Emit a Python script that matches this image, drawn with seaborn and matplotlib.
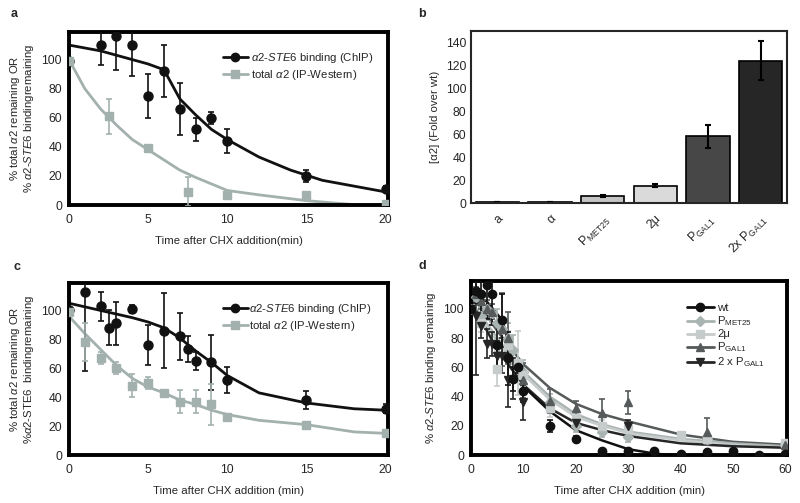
import numpy as np
import pandas as pd
import matplotlib
matplotlib.use("Agg")
import matplotlib.pyplot as plt
from matplotlib.lines import Line2D
from matplotlib.ticker import MultipleLocator
import seaborn as sns

# --- dados painel a ---
a_t_chip = [0, 2, 3, 4, 5, 6, 7, 8, 9, 10, 15, 20]
a_chip = [99, 110, 116, 110, 75, 92, 66, 52, 60, 44, 20, 11]
a_chip_err = [0, 14, 23, 21, 15, 18, 18, 8, 4, 8, 4, 2]
a_t_tot = [0, 2.5, 5, 7.5, 10, 15, 20]
a_tot = [99, 61, 39, 9, 7, 7, 1]
a_tot_err = [0, 12, 2, 10, 2, 1, 0]
a_fit_t_chip = [0, 1, 2, 3, 4, 5, 6, 7, 8, 9, 10, 12, 14, 16, 18, 20]
a_fit_chip = [110, 108, 106, 103, 100, 97, 93, 73, 62, 52, 45, 33, 24, 17, 13, 9]
a_fit_t_tot = [0, 1, 2, 3, 4, 5, 6, 7, 8, 10, 12, 15, 18.3]
a_fit_tot = [100, 80, 66, 55, 45, 38, 31, 24, 19, 10, 7, 3, 0]

# --- dados painel b ---
b_cats = ["a", "α", "P$_{\\mathrm{MET25}}$", "2μ", "P$_{\\mathrm{GAL1}}$", "2x P$_{\\mathrm{GAL1}}$"]
b_vals = [0.6, 1.2, 6, 15, 58, 124]
b_err = [0, 0, 0.8, 1.2, 10, 17]
b_colors = ["#111111", "#1a1a1a", "#c4c4c4", "#dadada", "#474747", "#262626"]

# --- dados painel c ---
c_t_chip = [0, 1, 2, 2.5, 3, 4, 5, 6, 7, 7.5, 8, 9, 10, 15, 20]
c_chip = [100, 113, 103, 88, 91, 101, 76, 86, 82, 73, 65, 64, 52, 38, 32]
c_chip_err = [0, 55, 10, 12, 15, 3, 14, 26, 16, 9, 6, 19, 9, 6, 3]
c_t_tot = [0, 1, 2, 3, 4, 5, 6, 7, 8, 9, 10, 15, 20]
c_tot = [99, 78, 67, 60, 48, 50, 43, 37, 37, 35, 26, 21, 15]
c_tot_err = [0, 13, 4, 4, 8, 4, 2, 8, 8, 14, 2, 1, 2]
c_fit_t_chip = [0, 2, 4, 5, 6, 7, 8, 9, 10, 12, 15, 18, 20]
c_fit_chip = [105, 100, 95, 92, 88, 81, 72, 64, 55, 43, 36, 32, 31]
c_fit_t_tot = [0, 1, 2, 3, 4, 5, 6, 7, 8, 9, 10, 12, 15, 18, 20]
c_fit_tot = [96, 84, 73, 62, 53, 47, 43, 38, 35, 31, 28, 24, 21, 16, 15]

# --- dados painel d ---
d_wt_t = [0, 1, 2, 3, 4, 5, 6, 7, 8, 9, 10, 15, 20, 25, 30, 35, 40, 45, 50, 55, 60]
d_wt = [100, 112, 110, 116, 110, 75, 92, 66, 52, 60, 44, 20, 11, 3, 3, 3, 1, 2, 3, 0, 1]
d_wt_err = [0, 8, 14, 23, 21, 15, 18, 18, 8, 4, 8, 4, 2, 1, 1, 1, 1, 1, 1, 1, 1]
d_met_t = [0, 1, 2, 3, 4, 5, 6, 7, 8, 10, 15, 20, 25, 30, 45, 60]
d_met = [100, 108, 95, 100, 97, 90, 86, 80, 72, 57, 36, 20, 16, 12, 11, 7]
d_met_err = [0, 5, 6, 8, 6, 10, 8, 10, 10, 8, 6, 4, 4, 3, 3, 2]
d_2mu_t = [0, 2, 5, 7, 9, 10, 15, 20, 25, 30, 40, 45, 60]
d_2mu = [100, 90, 59, 75, 63, 55, 32, 25, 20, 18, 14, 11, 8]
d_2mu_err = [0, 6, 12, 10, 22, 8, 6, 4, 4, 3, 2, 2, 2]
d_gal_t = [0, 1, 2, 3, 4, 6, 7, 10, 15, 20, 25, 30, 45, 60]
d_gal = [100, 110, 105, 100, 98, 86, 80, 51, 37, 32, 29, 36, 16, 7]
d_gal_err = [0, 5, 5, 6, 5, 25, 18, 12, 8, 5, 9, 8, 9, 2]
d_2gal_t = [0, 1, 2, 3, 4, 5, 6, 7, 8, 10, 20, 30]
d_2gal = [100, 95, 88, 76, 76, 68, 68, 51, 52, 36, 22, 20]
d_2gal_err = [0, 40, 8, 10, 8, 10, 12, 18, 14, 12, 4, 4]
d_fit_t = [0, 5, 10, 15, 20, 25, 30, 40, 50, 60]
d_fit_met = [105, 80, 57, 40, 28, 21, 16, 11, 8, 6]
d_fit_2mu = [103, 78, 55, 38, 26, 20, 15, 10, 7, 5]
d_fit_gal = [110, 85, 62, 46, 35, 28, 23, 14, 9, 7]
d_fit_2gal = [105, 72, 48, 32, 22, 17, 13, 8, 6, 5]
d_fit_wt_t = [0, 3, 6, 8, 10, 15, 20, 25, 30, 35, 38, 40]
d_fit_wt = [110, 105, 92, 65, 47, 30, 17, 10, 4, 1, 0, 0]

sns.set_style("white")
plt.rcParams["font.family"] = ["Liberation Sans", "DejaVu Sans"]
plt.rcParams["mathtext.fontset"] = "custom"
plt.rcParams["mathtext.rm"] = "Liberation Sans"
plt.rcParams["mathtext.it"] = "Liberation Sans:italic"
plt.rcParams["mathtext.bf"] = "Liberation Sans:bold"

FS = 8.2
TS = 8.8  # tamanho dos rótulos dos ticks
BLACK = "#111111"
GREY = "#a3b1ae"

fig = plt.figure(figsize=(8, 5.03), dpi=100)
ax_a = fig.add_axes([0.08625, 0.5924, 0.39875, 0.344])
ax_b = fig.add_axes([0.58875, 0.5964, 0.395, 0.342])
ax_c = fig.add_axes([0.08625, 0.0954, 0.39875, 0.342])
ax_d = fig.add_axes([0.58875, 0.0954, 0.395, 0.346])


def estilo(ax, lw=2.8):
    for s in ax.spines.values():
        s.set_linewidth(lw)
        s.set_color("black")
    ax.tick_params(direction="in", length=3, width=1, labelsize=TS)
    ax.tick_params(axis="x", pad=6.5)
    ax.tick_params(axis="y", pad=5)


def curva(ax, t, y, cor, lw=1.8):
    sns.lineplot(x=t, y=y, ax=ax, color=cor, lw=lw, legend=False, errorbar=None)


def pontos(ax, t, y, err, cor, marker, ms=6):
    ax.errorbar(t, y, yerr=err, fmt=marker, color=cor, ms=ms, mec=cor,
                ecolor=cor, elinewidth=1.2, capsize=2.5, capthick=1.2, zorder=3)


ylab_a = "% total $\\alpha$2 remaining OR\n% $\\alpha$2-$\\mathit{STE6}$ bindingremaining"
ylab_c = "% total $\\alpha$2 remaining OR\n%$\\alpha$2-STE6  bindingremaining"

# --- painel a ---
curva(ax_a, a_fit_t_chip, a_fit_chip, BLACK, 2.0)
curva(ax_a, a_fit_t_tot, a_fit_tot, GREY, 2.0)
pontos(ax_a, a_t_chip, a_chip, a_chip_err, BLACK, "o", 6.5)
pontos(ax_a, a_t_tot, a_tot, a_tot_err, GREY, "s", 6)
ax_a.set_xlim(0, 20.15)
ax_a.set_ylim(0, 119)
ax_a.set_xticks([0, 5, 10, 15, 20])
ax_a.set_yticks([0, 20, 40, 60, 80, 100])
ax_a.set_xlabel("Time after CHX addition(min)", fontsize=FS, labelpad=7)
ax_a.set_ylabel(ylab_a, fontsize=FS, labelpad=4, linespacing=1.0)
estilo(ax_a)
h_a = [Line2D([], [], color=BLACK, marker="o", ms=6, lw=2),
       Line2D([], [], color=GREY, marker="s", ms=5.5, lw=2)]
ax_a.legend(h_a, ["$\\alpha$2-$\\mathit{STE6}$ binding (ChIP)", "total $\\alpha$2 (IP-Western)"],
            loc="upper left", bbox_to_anchor=(0.45, 0.95), frameon=False, fontsize=FS,
            handlelength=2.2, handletextpad=0.3, labelspacing=0.3)

# --- painel b ---
df_b = pd.DataFrame({"cat": b_cats, "val": b_vals})
sns.barplot(data=df_b, x="cat", y="val", hue="cat", palette=b_colors, ax=ax_b,
            width=0.82, edgecolor="black", linewidth=1.2, legend=False, dodge=False)
ax_b.errorbar(range(len(b_cats)), b_vals, yerr=b_err, fmt="none", ecolor="black",
              elinewidth=1.5, capsize=2.5, capthick=1.5)
ax_b.set_xlim(-0.5, 5.5)
ax_b.set_ylim(0, 150)
ax_b.set_yticks(range(0, 141, 20))
ax_b.yaxis.set_minor_locator(MultipleLocator(4))
ax_b.set_xticks(np.arange(len(b_cats)))
ax_b.set_xticklabels(b_cats, rotation=45, ha="right", rotation_mode="anchor", fontsize=TS)
ax_b.set_xticks(np.arange(0.5, 5.5, 1), minor=True)
for s in ax_b.spines.values():
    s.set_linewidth(1.5)
ax_b.tick_params(axis="y", direction="in", length=4, width=1.5, labelsize=TS)
ax_b.tick_params(axis="y", which="minor", direction="in", length=3, width=1)
ax_b.tick_params(axis="x", which="major", length=0, pad=7)
ax_b.tick_params(axis="x", which="minor", direction="inout", length=6, width=1.5)
ax_b.set_xlabel("")
ax_b.set_ylabel("[α2] (Fold over wt)", fontsize=FS, labelpad=4)

# --- painel c ---
curva(ax_c, c_fit_t_chip, c_fit_chip, BLACK, 2.0)
curva(ax_c, c_fit_t_tot, c_fit_tot, GREY, 2.0)
pontos(ax_c, c_t_chip, c_chip, c_chip_err, BLACK, "o", 6.5)
pontos(ax_c, c_t_tot, c_tot, c_tot_err, GREY, "s", 6)
ax_c.set_xlim(0, 20.15)
ax_c.set_ylim(0, 119)
ax_c.set_xticks([0, 5, 10, 15, 20])
ax_c.set_yticks([0, 20, 40, 60, 80, 100])
ax_c.set_xlabel("Time after CHX addition (min)", fontsize=FS, labelpad=7)
ax_c.set_ylabel(ylab_c, fontsize=FS, labelpad=4, linespacing=1.0)
estilo(ax_c)
ax_c.legend(h_a, ["$\\mathit{\\alpha 2}$-$\\mathit{STE6}$ binding (ChIP)", "total $\\alpha$2 (IP-Western)"],
            loc="upper left", bbox_to_anchor=(0.45, 0.95), frameon=False, fontsize=FS,
            handlelength=2.2, handletextpad=0.1, labelspacing=0.3)

# --- painel d ---
C_WT, C_MET, C_2MU, C_GAL, C_2GAL = "#111111", "#a9b3b1", "#c6cccb", "#565a5a", "#262626"
curva(ax_d, d_fit_t, d_fit_gal, C_GAL)
curva(ax_d, d_fit_t, d_fit_met, C_MET)
curva(ax_d, d_fit_t, d_fit_2mu, C_2MU)
curva(ax_d, d_fit_t, d_fit_2gal, C_2GAL)
curva(ax_d, d_fit_wt_t, d_fit_wt, C_WT)
pontos(ax_d, d_met_t, d_met, d_met_err, C_MET, "D", 5)
pontos(ax_d, d_2mu_t, d_2mu, d_2mu_err, C_2MU, "s", 6)
pontos(ax_d, d_gal_t, d_gal, d_gal_err, C_GAL, "^", 6)
pontos(ax_d, d_2gal_t, d_2gal, d_2gal_err, C_2GAL, "v", 6)
pontos(ax_d, d_wt_t, d_wt, d_wt_err, C_WT, "o", 6)
ax_d.set_xlim(0, 60.3)
ax_d.set_ylim(0, 119)
ax_d.set_xticks(range(0, 61, 10))
ax_d.set_yticks([0, 20, 40, 60, 80, 100])
ax_d.yaxis.set_minor_locator(MultipleLocator(5))
ax_d.set_xlabel("Time after CHX addition (min)", fontsize=FS, labelpad=7)
ax_d.set_ylabel("% $\\alpha$2-$\\mathit{STE6}$ binding remaining", fontsize=FS, labelpad=4)
estilo(ax_d)
ax_d.tick_params(which="minor", direction="in", length=2.5, width=1)
h_d = [Line2D([], [], color=C_WT, marker="o", ms=6, lw=2),
       Line2D([], [], color=C_MET, marker="D", ms=5, lw=2),
       Line2D([], [], color=C_2MU, marker="s", ms=6, lw=2),
       Line2D([], [], color=C_GAL, marker="^", ms=6, lw=2),
       Line2D([], [], color=C_2GAL, marker="v", ms=6, lw=2)]
ax_d.legend(h_d, ["wt", "P$_{\\mathrm{MET25}}$", "2μ", "P$_{\\mathrm{GAL1}}$", "2 x P$_{\\mathrm{GAL1}}$"],
            loc="upper left", bbox_to_anchor=(0.65, 0.93), frameon=False, fontsize=FS,
            handlelength=2.4, handletextpad=0.3, labelspacing=0.1)

# letras dos painéis
for letra, x, y in [("a", 14, 14), ("b", 422, 14), ("c", 17, 267), ("d", 422, 266)]:
    fig.text(x / 800, 1 - y / 503, letra, fontsize=9, fontweight="bold", va="center", ha="center")

fig.savefig("out.png", dpi=100)
